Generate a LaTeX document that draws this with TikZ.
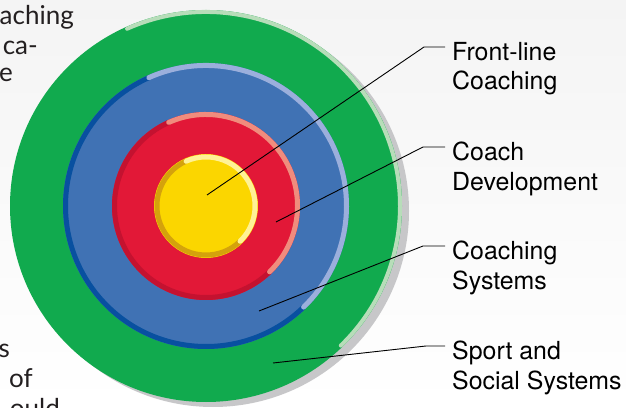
\documentclass[tikz,border=0pt]{standalone}
\usepackage{fontspec}
\setmainfont{TeX Gyre Heros}
\newfontfamily\pagefont{Lato}
\usepackage{xcolor}
\usetikzlibrary{positioning,calc}
\definecolor{pagegray}{RGB}{244,244,244}
\definecolor{textgray}{RGB}{35,31,32}
\definecolor{shadowgray}{RGB}{199,199,201}
\definecolor{sportgreen}{RGB}{17,170,78}
\definecolor{sportlight}{RGB}{183,221,185}
\definecolor{sysblue}{RGB}{64,114,180}
\definecolor{syslight}{RGB}{155,175,220}
\definecolor{sysdark}{RGB}{8,80,160}
\definecolor{devred}{RGB}{226,24,55}
\definecolor{devlight}{RGB}{240,140,125}
\definecolor{devdark}{RGB}{196,18,48}
\definecolor{lineyellow}{RGB}{251,214,0}
\definecolor{linelight}{RGB}{255,242,150}
\definecolor{linedark}{RGB}{212,162,12}
\tikzset{
	ring/.style={circle, inner sep=0pt, draw=none},
	rim/.style={line width=5pt},
	lit/.style={rim, line cap=round},
	leader/.style={draw=black, line width=0.9pt},
	ringtext/.style={font=\fontsize{24.9pt}{29.5pt}\selectfont, align=left, anchor=north west, inner xsep=7pt, inner ysep=0pt},
	pagetext/.style={font=\pagefont\fontsize{26pt}{29pt}\selectfont, text=textgray, anchor=base east, inner sep=0pt}
}
\newcommand{\ringrim}[5]{
	\draw[#1] ($(#2.center)+(#4:#3)$) arc[start angle=#4, end angle=#5, radius=#3];
}

\begin{document}
\begin{tikzpicture}[x=1pt, y=1pt]
	\useasboundingbox (0,0) rectangle (626,407);
	\clip (0,0) rectangle (626,407);
	\shade[top color=pagegray, bottom color=white] (0,0) rectangle (626,407);

	% Page text cut off at the left margin.
	\node[pagetext] (page-1) at (74,382) {aching};
	\node[pagetext] (page-2) at (38,352) {ca-};
	\node[pagetext] (page-3) at (13,325) {e};
	\node[pagetext] (page-4) at (10,50) {s};
	\node[pagetext] (page-5) at (33,20) {of};
	\node[pagetext] (page-6) at (60,-10) {ould};

	% Target rings are drawn.
	\node[ring, fill=shadowgray, minimum size=392pt] (shadow) at (213,196) {};
	\node[ring, fill=sportgreen, minimum size=392pt] (sport-social) at (206,201) {};
	\node[ring, fill=sysblue, minimum size=286pt] (coaching-sys) at (sport-social.center) {};
	\node[ring, fill=devred, minimum size=188pt] (coach-dev) at (sport-social.center) {};
	\node[ring, fill=lineyellow, minimum size=104pt] (front-line) at (sport-social.center) {};

	\ringrim{lit, sportlight, line width=4pt}{sport-social}{194pt}{114}{-46}
	\ringrim{rim, sysdark}{coaching-sys}{140.5pt}{-46}{-246}
	\ringrim{lit, syslight}{coaching-sys}{140.5pt}{114}{-46}
	\ringrim{rim, devdark}{coach-dev}{91.5pt}{-46}{-246}
	\ringrim{lit, devlight}{coach-dev}{91.5pt}{114}{-46}
	\ringrim{rim, linedark}{front-line}{49pt}{-46}{-246}
	\ringrim{lit, linelight}{front-line}{49pt}{114}{-46}

	% Leader lines to the ring names.
	\coordinate (front-line-pt) at (207,212);
	\coordinate (front-line-bend) at (424,360);
	\node[ringtext] (front-line-text) at (445,365) {Front-line\\Coaching};
	\draw[leader] (front-line-pt) -- (front-line-bend) -- (front-line-bend -| front-line-text.west);

	\coordinate (coach-dev-pt) at (276,185);
	\coordinate (coach-dev-bend) at (423,260);
	\node[ringtext] (coach-dev-text) at (445,265) {Coach\\Development};
	\draw[leader] (coach-dev-pt) -- (coach-dev-bend) -- (coach-dev-bend -| coach-dev-text.west);

	\coordinate (coaching-sys-pt) at (259,96);
	\coordinate (coaching-sys-bend) at (423,161);
	\node[ringtext] (coaching-sys-text) at (445,166) {Coaching\\Systems};
	\draw[leader] (coaching-sys-pt) -- (coaching-sys-bend) -- (coaching-sys-bend -| coaching-sys-text.west);

	\coordinate (sport-social-pt) at (273,44);
	\coordinate (sport-social-bend) at (426,61);
	\node[ringtext] (sport-social-text) at (445,66) {Sport and\\Social Systems};
	\draw[leader] (sport-social-pt) -- (sport-social-bend) -- (sport-social-bend -| sport-social-text.west);
\end{tikzpicture}
\end{document}
